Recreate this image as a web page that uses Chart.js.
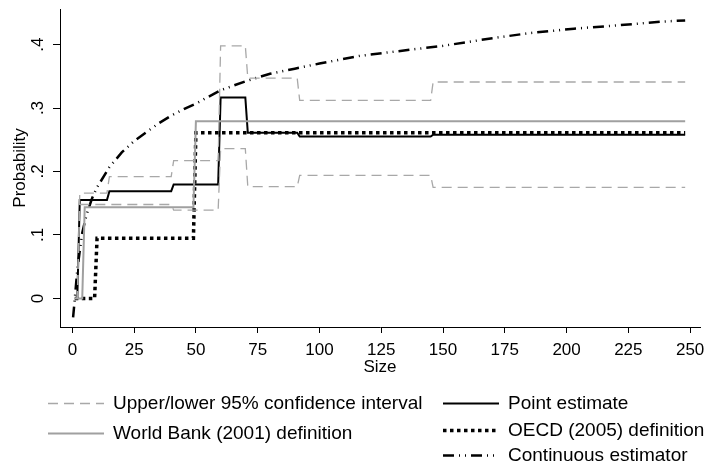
<!DOCTYPE html>
<html>
<head>
<meta charset="utf-8">
<script src="https://cdn.jsdelivr.net/npm/chart.js@4"></script>
<style>
  html, body { margin: 0; padding: 0; background: #fff; }
  canvas { display: block; }
</style>
</head>
<body>
<canvas id="chart" width="708" height="465"></canvas>
<script>
// Axis ticks
const xTicks = [0, 25, 50, 75, 100, 125, 150, 175, 200, 225, 250];
const yTicks = [0, 0.1, 0.2, 0.3, 0.4];
const yTickLabels = ['0', '.1', '.2', '.3', '.4'];

// Point estimate of the probability by firm size
const pointSize = [1, 2, 3, 14, 15, 40, 41, 59, 60, 70, 71, 91, 92, 145, 146, 248];
const pointProb = [0, 0, 0.155, 0.155, 0.169, 0.169, 0.1795, 0.1795, 0.3165, 0.3165, 0.261, 0.261, 0.255, 0.255, 0.258, 0.258];

// Upper and lower 95% confidence bounds
const upperSize = [1, 2, 3, 14, 15, 40, 41, 59, 60, 70, 71, 91, 92, 145, 146, 248];
const upperProb = [0, 0, 0.166, 0.166, 0.192, 0.192, 0.217, 0.217, 0.398, 0.398, 0.347, 0.347, 0.312, 0.312, 0.341, 0.341];
const lowerSize = [1, 2, 3, 40, 41, 59, 60, 70, 71, 91, 92, 145, 146, 248];
const lowerProb = [0, 0, 0.148, 0.148, 0.139, 0.139, 0.236, 0.236, 0.176, 0.176, 0.194, 0.194, 0.175, 0.175];

// Size-class definitions
const wbSize = [1, 4, 5, 49, 50, 248];
const wbProb = [0, 0, 0.1435, 0.1435, 0.279, 0.279];
const oecdSize = [1, 9, 10, 49, 50, 248];
const oecdProb = [0, 0, 0.095, 0.095, 0.261, 0.261];

// Continuous estimator
const contSize = [0.3, 1, 2, 3, 4, 5, 6, 8, 10, 15, 20, 25, 30, 35, 40, 46, 50, 60, 70, 80, 90, 100, 116, 137, 150, 170, 185, 203, 220, 238, 248];
const contProb = [-0.03, 0.0, 0.045, 0.075, 0.103, 0.12, 0.135, 0.158, 0.175, 0.207, 0.23, 0.248, 0.262, 0.276, 0.288, 0.3, 0.307, 0.328, 0.342, 0.354, 0.362, 0.37, 0.382, 0.392, 0.398, 0.41, 0.418, 0.425, 0.43, 0.436, 0.438];

const FONT = '"Liberation Sans", Arial, Helvetica, sans-serif';
const pts = (xs, ys) => xs.map((x, i) => ({ x: x, y: ys[i] }));

const CI_GRAY = '#a8a8a8';
const WB_GRAY = '#a0a0a0';

const datasets = [
  { label: 'Upper 95% confidence interval', data: pts(upperSize, upperProb),
    borderColor: CI_GRAY, borderWidth: 1.3, borderDash: [10, 6] },
  { label: 'Lower 95% confidence interval', data: pts(lowerSize, lowerProb),
    borderColor: CI_GRAY, borderWidth: 1.3, borderDash: [10, 6] },
  { label: 'World Bank (2001) definition', data: pts(wbSize, wbProb),
    borderColor: WB_GRAY, borderWidth: 2 },
  { label: 'Point estimate', data: pts(pointSize, pointProb),
    borderColor: '#000', borderWidth: 2 },
  { label: 'OECD (2005) definition', data: pts(oecdSize, oecdProb),
    borderColor: '#000', borderWidth: 3.5, borderDash: [3.5, 3.5] },
  { label: 'Continuous estimator', data: pts(contSize, contProb),
    borderColor: '#000', borderWidth: 2.5, borderDash: [11, 5, 1, 5, 1, 5] }
];

// Legend entries: text, dataset whose line style is shown, placement
const legendEntries = [
  { text: 'Upper/lower 95% confidence interval', ds: 0, x: 48, y: 403 },
  { text: 'World Bank (2001) definition', ds: 2, x: 48, y: 433 },
  { text: 'Point estimate', ds: 3, x: 443, y: 403 },
  { text: 'OECD (2005) definition', ds: 4, x: 443, y: 430 },
  { text: 'Continuous estimator', ds: 5, x: 443, y: 455 }
];

const legendPlugin = {
  id: 'gridLegend',
  afterDraw(chart) {
    const ctx = chart.ctx;
    ctx.save();
    legendEntries.forEach(e => {
      const d = chart.data.datasets[e.ds];
      ctx.beginPath();
      ctx.strokeStyle = d.borderColor;
      ctx.lineWidth = d.borderWidth;
      ctx.setLineDash(d.borderDash || []);
      ctx.moveTo(e.x, e.y + 0.5);
      ctx.lineTo(e.x + 56, e.y + 0.5);
      ctx.stroke();
      ctx.setLineDash([]);
      ctx.fillStyle = '#000';
      ctx.font = '19px ' + FONT;
      ctx.textBaseline = 'middle';
      ctx.textAlign = 'left';
      ctx.fillText(e.text, e.x + 65, e.y + 1);
    });
    ctx.restore();
  }
};

Chart.defaults.font.family = FONT;
Chart.defaults.color = '#000';

new Chart(document.getElementById('chart'), {
  type: 'line',
  data: { datasets: datasets },
  plugins: [legendPlugin],
  options: {
    responsive: false,
    animation: false,
    devicePixelRatio: 1,
    elements: { point: { radius: 0 }, line: { tension: 0, fill: false } },
    layout: { padding: { top: 9, right: 8, left: 0, bottom: 86 } },
    plugins: { legend: { display: false }, tooltip: { enabled: false } },
    scales: {
      x: {
        type: 'linear', min: -5, max: 254,
        afterBuildTicks: s => { s.ticks = xTicks.map(v => ({ value: v })); },
        afterFit: s => { s.height = 52; s.paddingLeft = 0; s.paddingRight = 0; },
        grid: { display: true, drawOnChartArea: false, drawTicks: true, tickLength: 6, color: '#000', lineWidth: 1 },
        border: { display: true, color: '#000', width: 1 },
        ticks: { font: { size: 17 }, padding: 7, maxRotation: 0, autoSkip: false, callback: v => String(v) },
        title: { display: true, text: 'Size', font: { size: 17 }, padding: { top: 0, bottom: 1 } }
      },
      y: {
        type: 'linear', min: -0.045, max: 0.456,
        afterBuildTicks: s => { s.ticks = yTicks.map(v => ({ value: v })); },
        afterFit: s => { s.width = 60; s.paddingTop = 0; s.paddingBottom = 0; },
        grid: { display: true, drawOnChartArea: false, drawTicks: true, tickLength: 7, color: '#000', lineWidth: 1 },
        border: { display: true, color: '#000', width: 1 },
        ticks: {
          font: { size: 17 }, padding: 8, minRotation: 90, maxRotation: 90, crossAlign: 'center', autoSkip: false,
          callback: v => yTickLabels[yTicks.indexOf(v)]
        },
        title: { display: true, text: 'Probability', font: { size: 17 }, padding: { top: 10, bottom: 0 } }
      }
    }
  }
});
</script>
</body>
</html>
